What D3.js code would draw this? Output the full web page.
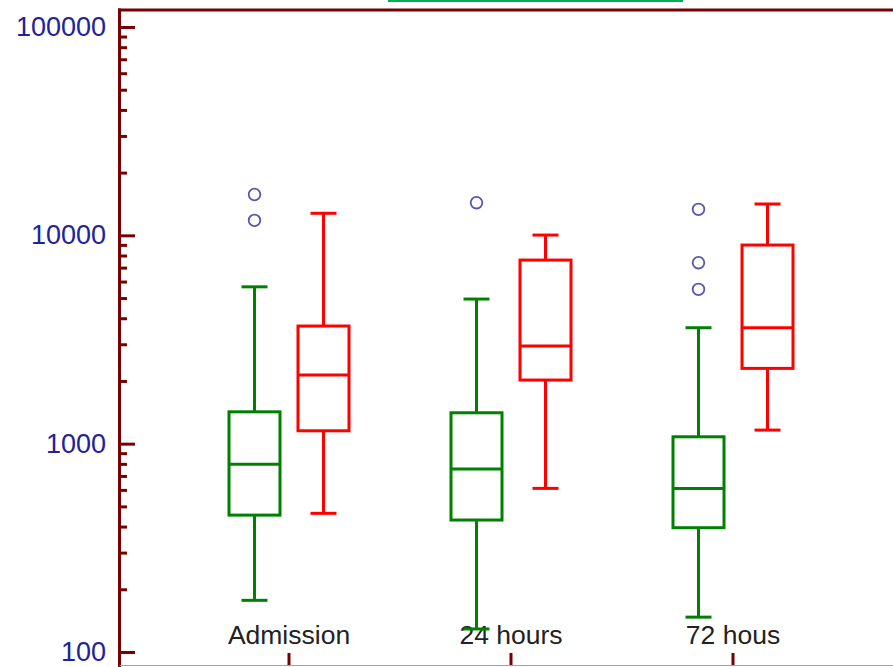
<!DOCTYPE html>
<html>
<head>
<meta charset="utf-8">
<script src="https://cdn.jsdelivr.net/npm/d3@7"></script>
<style>
  html, body { margin: 0; padding: 0; background: #fff; }
  svg { display: block; }
</style>
</head>
<body>
<svg id="chart" width="893" height="667"></svg>
<script>
// ---- data ----
const groups = ["Admission", "24 hours", "72 hous"];
const series = ["green", "red"];

const greenLow     = [177, 129, 147];
const greenQ1      = [454, 430, 395];
const greenMedian  = [796, 755, 610];
const greenQ3      = [1422, 1407, 1079];
const greenHigh    = [5660, 4945, 3601];
const greenOutliers = [[15700, 11800], [14340], [13330, 7390, 5506]];

const redLow     = [463, 610, 1162];
const redQ1      = [1153, 2020, 2298];
const redMedian  = [2134, 2942, 3601];
const redQ3      = [3670, 7607, 8981];
const redHigh    = [12760, 10030, 14140];
const redOutliers = [[], [], []];

const yTickValues = [100, 1000, 10000, 100000];
const yTickLabels = ["100", "1000", "10000", "100000"];

// ---- layout / style ----
const W = 893, H = 667;
const plotLeft = 119.5, plotTop = 10, plotBottom = 665;
const axisColor = "#780000";
const labelBlue = "#22229c";
const colors = { green: "#008000", red: "#ff0000" };
const boxWidth = 51, capWidth = 26;

const svg = d3.select("#chart");

const y = d3.scaleLog().domain([100, 100000]).range([652, 27]);
const x = d3.scaleBand().domain(groups).range([178, 844]);
const xs = d3.scaleBand().domain(series).range([-69, 69]);
const cx = g => x(g) + x.bandwidth() / 2;
const sx = s => xs(s) + xs.bandwidth() / 2;

// green strip at top (cropped element)
svg.append("line")
  .attr("x1", 388).attr("x2", 683).attr("y1", 1).attr("y2", 1)
  .attr("stroke", "#00b050").attr("stroke-width", 2);

// frame
svg.append("line")
  .attr("x1", plotLeft).attr("x2", plotLeft).attr("y1", plotTop - 1.5).attr("y2", H)
  .attr("stroke", axisColor).attr("stroke-width", 3);
svg.append("line")
  .attr("x1", plotLeft - 1.5).attr("x2", W).attr("y1", plotTop).attr("y2", plotTop)
  .attr("stroke", axisColor).attr("stroke-width", 3);
svg.append("line")
  .attr("x1", plotLeft).attr("x2", W).attr("y1", plotBottom + 0.5).attr("y2", plotBottom + 0.5)
  .attr("stroke", "#d09090").attr("stroke-width", 1);

// y axis: minor ticks
const minor = [];
for (let d = 100; d < 100000; d *= 10) {
  for (let k = 2; k <= 9; k++) minor.push(d * k);
}
const gMinor = svg.append("g").attr("transform", `translate(${plotLeft - 0.5},0)`)
  .call(d3.axisLeft(y).tickValues(minor).tickSize(-8).tickFormat(""));
gMinor.select(".domain").remove();
gMinor.selectAll(".tick line").attr("stroke", axisColor).attr("stroke-width", 3);

// y axis: major ticks + labels
const gMajor = svg.append("g").attr("transform", `translate(${plotLeft - 0.5},0)`)
  .call(d3.axisLeft(y).tickValues(yTickValues).tickSize(-16).tickPadding(13)
    .tickFormat((d, i) => yTickLabels[i]));
gMajor.select(".domain").remove();
gMajor.selectAll(".tick line").attr("stroke", axisColor).attr("stroke-width", 3);
gMajor.selectAll(".tick text")
  .attr("fill", labelBlue)
  .style("font-family", "'Liberation Sans', Arial, sans-serif")
  .style("font-size", "27px");

// x axis (ticks pointing up, labels above)
const gx = svg.append("g").attr("transform", `translate(0,${plotBottom})`)
  .call(d3.axisTop(x).tickSize(12).tickPadding(9));
gx.select(".domain").remove();
gx.selectAll(".tick line").attr("stroke", axisColor).attr("stroke-width", 3);
gx.selectAll(".tick text")
  .attr("fill", "#222")
  .style("font-family", "'Liberation Sans', Arial, sans-serif")
  .style("font-size", "26.5px");

// boxes
const stats = {
  green: { low: greenLow, q1: greenQ1, med: greenMedian, q3: greenQ3, high: greenHigh, out: greenOutliers },
  red:   { low: redLow,   q1: redQ1,   med: redMedian,   q3: redQ3,   high: redHigh,   out: redOutliers }
};

const boxLayer = svg.append("g");
const outlierLayer = svg.append("g");
series.forEach(s => {
  const st = stats[s];
  groups.forEach((g, i) => {
    const c = cx(g) + sx(s);
    const lo = y(st.low[i]), q1 = y(st.q1[i]), md = y(st.med[i]), q3 = y(st.q3[i]), hi = y(st.high[i]);
    const gg = boxLayer.append("g")
      .attr("stroke", colors[s]).attr("stroke-width", 3).attr("fill", "none");
    // whiskers
    gg.append("line").attr("x1", c).attr("x2", c).attr("y1", q3).attr("y2", hi);
    gg.append("line").attr("x1", c).attr("x2", c).attr("y1", q1).attr("y2", lo);
    gg.append("line").attr("x1", c - capWidth / 2).attr("x2", c + capWidth / 2)
      .attr("y1", hi).attr("y2", hi);
    gg.append("line").attr("x1", c - capWidth / 2).attr("x2", c + capWidth / 2)
      .attr("y1", lo).attr("y2", lo);
    // box
    gg.append("rect").attr("x", c - boxWidth / 2).attr("width", boxWidth)
      .attr("y", q3).attr("height", q1 - q3);
    // median
    gg.append("line").attr("x1", c - boxWidth / 2).attr("x2", c + boxWidth / 2)
      .attr("y1", md).attr("y2", md);
    // outliers
    st.out[i].forEach(v => {
      outlierLayer.append("circle")
        .attr("cx", c).attr("cy", y(v)).attr("r", 5.8)
        .attr("fill", "none").attr("stroke", "#5656b2").attr("stroke-width", 1.8);
    });
  });
});
</script>
</body>
</html>
